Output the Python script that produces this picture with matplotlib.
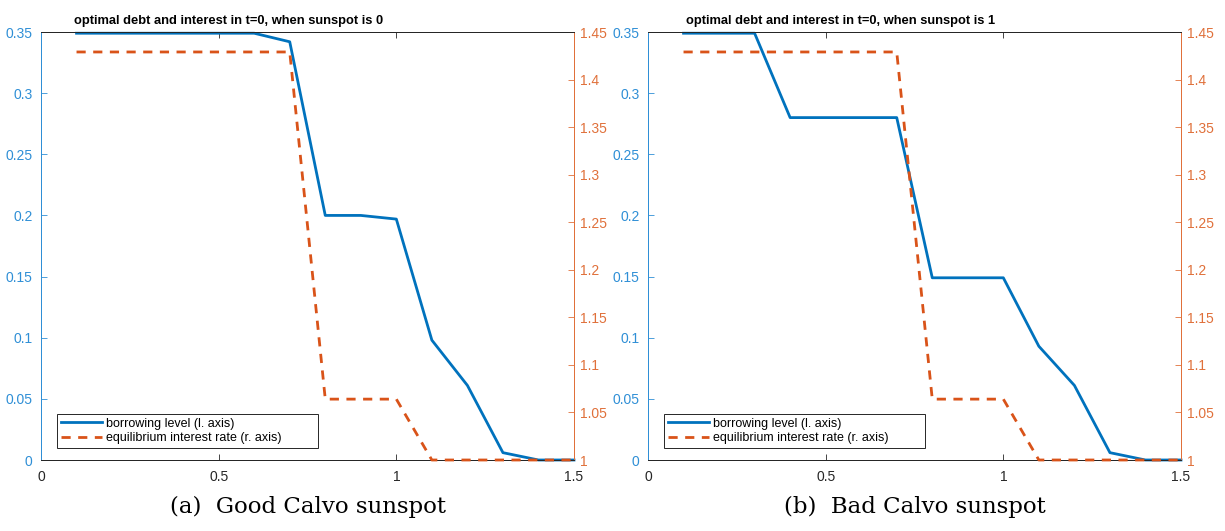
import matplotlib
matplotlib.use("Agg")
import matplotlib.pyplot as plt

# debt grid (x axis)
x = [0.1, 0.2, 0.3, 0.4, 0.5, 0.6, 0.7, 0.8, 0.9, 1.0, 1.1, 1.2, 1.3, 1.4, 1.5]

# sunspot 0 (good Calvo)
debt_good = [0.349, 0.349, 0.349, 0.349, 0.349, 0.349, 0.342, 0.200, 0.200, 0.197,
             0.098, 0.061, 0.006, 0.0, 0.0]
rate_good = [1.429, 1.429, 1.429, 1.429, 1.429, 1.429, 1.429, 1.064, 1.064, 1.064,
             1.0, 1.0, 1.0, 1.0, 1.0]

# sunspot 1 (bad Calvo)
debt_bad = [0.349, 0.349, 0.349, 0.280, 0.280, 0.280, 0.280, 0.149, 0.149, 0.149,
            0.093, 0.061, 0.006, 0.0, 0.0]
rate_bad = [1.429, 1.429, 1.429, 1.429, 1.429, 1.429, 1.429, 1.064, 1.064, 1.064,
            1.0, 1.0, 1.0, 1.0, 1.0]

titles = ["optimal debt and interest in t=0, when sunspot is 0",
          "optimal debt and interest in t=0, when sunspot is 1"]
captions = ["(a)  Good Calvo sunspot", "(b)  Bad Calvo sunspot"]
xticks = [0, 0.5, 1, 1.5]
lticks = [0, 0.05, 0.1, 0.15, 0.2, 0.25, 0.3, 0.35]
lticklabels = ["0", "0.05", "0.1", "0.15", "0.2", "0.25", "0.3", "0.35"]
rticks = [1, 1.05, 1.1, 1.15, 1.2, 1.25, 1.3, 1.35, 1.4, 1.45]
rticklabels = ["1", "1.05", "1.1", "1.15", "1.2", "1.25", "1.3", "1.35", "1.4", "1.45"]

BLUE = "#0072BD"
ORANGE = "#D95319"
LBLUE = "#2f8fd6"
LORANGE = "#e0703a"

plt.rcParams["font.family"] = ["Liberation Sans", "DejaVu Sans"]

fig = plt.figure(figsize=(12.25, 5.31), dpi=100)
lefts = [41 / 1225, 648 / 1225]
W = 533 / 1225
B = 1 - 460 / 531
H = 428 / 531
title_x = [0.351, 0.362]

for i, (debt, rate) in enumerate([(debt_good, rate_good), (debt_bad, rate_bad)]):
    ax = fig.add_axes([lefts[i], B, W, H])
    ax2 = ax.twinx()

    l1, = ax.plot(x, debt, color=BLUE, lw=2.0, clip_on=False, zorder=3)
    l2, = ax2.plot(x, rate, color=ORANGE, lw=2.0, ls=(0, (3.3, 2.7)),
                   clip_on=False, zorder=3)

    ax.set_xlim(0, 1.5)
    ax.set_ylim(0, 0.35)
    ax2.set_ylim(1, 1.45)
    ax.set_xticks(xticks)
    ax.set_xticklabels(["0", "0.5", "1", "1.5"])
    ax.set_yticks(lticks)
    ax.set_yticklabels(lticklabels)
    ax2.set_yticks(rticks)
    ax2.set_yticklabels(rticklabels)

    ax.tick_params(axis="x", direction="in", length=4, width=0.6, top=True,
                   labelsize=10, colors="#262626", pad=7)
    ax.tick_params(axis="y", direction="in", length=4, width=0.6,
                   labelsize=10, colors=LBLUE, pad=6)
    ax2.tick_params(axis="y", direction="in", length=4, width=0.6,
                    labelsize=10, colors=LORANGE, pad=4)

    for a in (ax, ax2):
        a.spines["top"].set_color("#262626")
        a.spines["bottom"].set_color("#262626")
        a.spines["left"].set_color(LBLUE)
        a.spines["right"].set_color(LORANGE)
        for s in a.spines.values():
            s.set_linewidth(0.7)

    ax.text(title_x[i], 1.012, titles[i], transform=ax.transAxes, ha="center",
            va="bottom", fontsize=9.3, fontweight="bold", color="black")

    leg = ax2.legend([l1, l2], ["borrowing level (l. axis)",
                                "equilibrium interest rate (r. axis)"],
                     loc="lower left", bbox_to_anchor=(0.03, 0.028, 0.49, 0.08),
                     mode="expand",
                     fontsize=9, fancybox=False, framealpha=1,
                     edgecolor="#262626", handlelength=3.3, handletextpad=0.3,
                     borderpad=0.3, labelspacing=0.2, borderaxespad=0)
    leg.get_frame().set_linewidth(0.7)

    fig.text(lefts[i] + W / 2, 1 - 507 / 531, captions[i], ha="center",
             va="center", fontsize=16.5, family=["DejaVu Serif"])

fig.savefig("out.png", dpi=100)
